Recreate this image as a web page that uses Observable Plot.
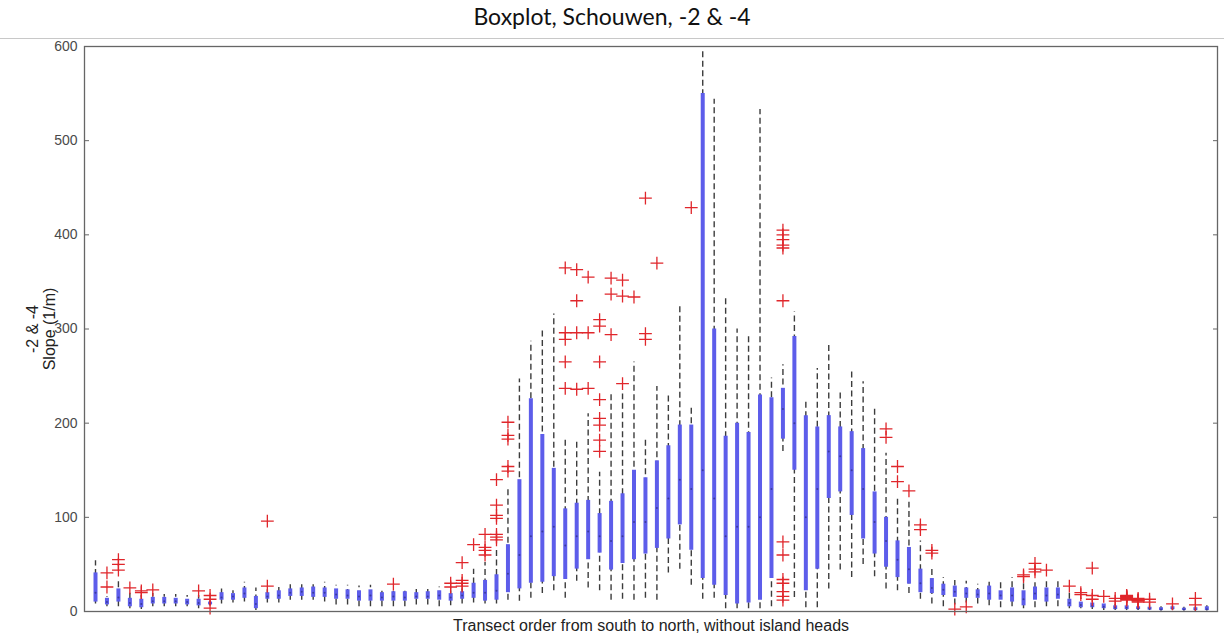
<!DOCTYPE html>
<html>
<head>
<meta charset="utf-8">
<script src="https://cdn.jsdelivr.net/npm/d3@7"></script>
<script src="https://cdn.jsdelivr.net/npm/@observablehq/plot@0.6"></script>
<style>
  body { margin: 0; background: #fff; }
  #title {
    height: 38px;
    border-bottom: 1px solid #c8c8c8;
    font: 23px Lato, "Open Sans", sans-serif;
    line-height: 32px;
    text-align: center;
    color: #111;
  }
  #chart svg { display: block; }
</style>
</head>
<body>
<div id="title">Boxplot, Schouwen, -2 &amp; -4</div>
<div id="chart"></div>
<script>
// Transects 1..98, ordered from south to north
const transect = d3.range(1, 99);

// Box statistics per transect (slope, 1/m)
const whiskerLow = [8,5,5,3,2,5,5,5,5,3, 6,8,9,10,1,9,9,12,12,12, 10,7,7,5,5,5,5,5,7,7,
  5,6,8,9,8,8,12,11,14,19, 22,14,32,25,22,12,13,12,14,12, 41,45,28,13,14,3,3,3,3,5,
  170,15,4,4,24,44,36,50,37,24, 22,19,13,8,5,7,9,8,6,4, 5,3,4,5,5,3,3,2,1,1,
  1,1,1,0.5,1,0.5,0.5,0.5];
const quartile1 = [10,7,10,5,4,8,8,8,7,6, 7,12,12,14,3,13,13,16,16,15, 15,13,13,11,11,11,11,11,13,13,
  12,11,13,14,11,12,20,24,30,31, 37,34,45,55,62,44,51,55,61,67, 77,92,65,35,28,17,8,9,12,35,
  183,150,22,45,120,127,102,77,61,47, 36,29,20,19,17,15,14,14,12,12, 10,6,12,10,13,5,4,4,3,2,
  2,2,1.5,1,2,1,1,1];
const median = [20,10,15,9,8,11,11,11,10,9, 8,15,16,19,8,16,17,20,21,20, 20,18,17,16,17,15,16,15,16,16,
  17,15,17,20,20,22,40,60,80,85, 90,70,80,85,80,75,80,95,95,110, 120,140,130,150,120,80,90,90,100,130,
  215,200,100,130,170,165,150,130,95,75, 55,45,30,25,23,21,19,18,19,17, 17,13,19,17,18,9,7,6,5,4,
  4,3,3,2,3,2,2,2.5];
const quartile3 = [41,14,24,14,13,15,15,14,13,13, 10,20,19,25,16,20,22,24,25,26, 25,24,23,22,23,20,21,21,20,21,
  22,19,21,30,33,39,71,140,226,188, 152,109,115,118,104,117,125,150,142,160, 176,198,198,550,300,186,200,190,230,227,
  237,292,208,196,208,196,191,173,127,100, 75,68,45,35,29,27,25,23,27,22, 25,22,26,25,25,13,10,9,8,6,
  6,5,4.5,4,5,3.5,4,5];
const whiskerHigh = [54,16,32,20,17,19,18,18,17,17, 11,24,22,31,25,23,26,30,30,30, 31,28,28,27,28,24,25,24,24,25,
  26,22,24,45,52,68,132,247,287,298, 316,185,180,210,148,233,231,265,182,239, 231,325,217,598,544,334,300,293,533,248,
  262,318,224,258,284,233,255,244,215,168, 123,116,75,45,36,33,32,29,31,32, 36,33,34,33,33,20,14,11,11,8,
  8,7,6,5,6,4.5,5,6];

// Values beyond the whiskers, listed per transect
const outliers = [[],[41,26],[55,50,44],[25],[22,20],[23],[],[],[],[22],
  [17,13,3.5],[],[],[],[],[96,27],[],[],[],[],
  [],[],[],[],[],[],[29],[],[],[],
  [],[30,26],[52,33,30,27],[71],[82,68,65,60],[140,113,102,99,82,79,76],[201,187,183,154,149],[],[],[],
  [],[365,296,289,265,237],[363,330,296,236],[355,296,237],[310,303,265,225,205,198,182,170],[354,337,294],[352,335,242],[334],[439,295,289],[370],
  [],[],[429],[],[],[],[],[],[],[],
  [405,400,395,389,386,330,74,60,34,30,21,16,12],[],[],[],[],[],[],[],[],[194,185],
  [154,138],[128],[92,87],[65,62],[],[2.5],[5],[],[],[],
  [],[39,37],[51,45,42],[44],[],[27],[20,18],[46,17,13],[16],[14,11],
  [17,16.5,16,15.5,15,14,13,12],[14,12.5,12,11.5,11,10],[13,10],[],[8],[],[14,7],[]];

const yTicks = [0, 100, 200, 300, 400, 500, 600];
const xTitle = "Transect order from south to north, without island heads";
const yTitle = ["-2 & -4", "Slope (1/m)"];

const boxes = transect.map((t, i) => ({
  t, lo: whiskerLow[i], q1: quartile1[i], med: median[i], q3: quartile3[i], hi: whiskerHigh[i]
}));
const flagged = transect.flatMap((t, i) => outliers[i].map(v => ({t, v})));

const chart = Plot.plot({
  width: 1224,
  height: 604,
  marginTop: 7,
  marginBottom: 32,
  marginLeft: 84,
  marginRight: 7,
  style: {fontFamily: "'Liberation Sans', Arial, sans-serif", fontSize: "14px", color: "#4a4a4a", background: "#fff"},
  x: {domain: [0.04, 98.93], axis: null},
  y: {domain: [0, 600], axis: null},
  marks: [
    // dashed whiskers behind the boxes
    Plot.ruleX(boxes, {x: "t", y1: "lo", y2: "hi", stroke: "#3c3c3c", strokeWidth: 1.4, strokeDasharray: "6,3.5"}),
    // compact boxes: thick bar from first to third quartile
    Plot.ruleX(boxes, {x: "t", y1: "q1", y2: "q3", stroke: "#5d5dea", strokeWidth: 4}),
    Plot.dot(boxes, {x: "t", y: "med", r: 1, fill: "#33338a", fillOpacity: 0.8}),
    // outliers
    Plot.dot(flagged, {x: "t", y: "v", symbol: "plus", r: 4.2, stroke: "#e0262b", strokeWidth: 1.3}),
    // axes box with inward ticks
    Plot.frame({stroke: "#666", strokeWidth: 1.3}),
    Plot.axisY(yTicks, {anchor: "left", tickSize: 0, tickPadding: 7, label: null, fontSize: 14}),
    Plot.axisY(yTicks, {anchor: "left", tickSize: -5, tickFormat: () => "", label: null, stroke: "#666"}),
    Plot.axisY(yTicks, {anchor: "right", tickSize: -5, tickFormat: () => "", label: null, stroke: "#666"}),
    // axis titles
    Plot.text([xTitle], {frameAnchor: "bottom", dy: 19, fontSize: 16, fill: "#222"}),
    Plot.text([yTitle[0]], {frameAnchor: "left", textAnchor: "middle", dx: -52, rotate: -90, fontSize: 16, fill: "#222"}),
    Plot.text([yTitle[1]], {frameAnchor: "left", textAnchor: "middle", dx: -35, rotate: -90, fontSize: 16, fill: "#222"})
  ]
});
document.getElementById("chart").append(chart);
</script>
</body>
</html>
